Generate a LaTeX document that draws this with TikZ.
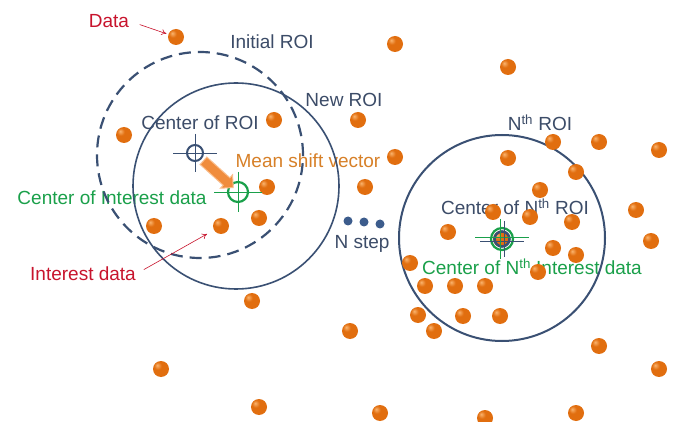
\documentclass[tikz,border=0pt]{standalone}
\usepackage{fontspec}
\setmainfont{Liberation Sans}
\usetikzlibrary{shapes.arrows,arrows.meta,calc}
\definecolor{roiblue}{RGB}{58,80,115}
\definecolor{txtblue}{RGB}{60,76,104}
\definecolor{grn}{RGB}{26,160,74}
\definecolor{redl}{RGB}{200,20,45}
\definecolor{orT}{RGB}{215,128,40}
\definecolor{dotor}{RGB}{225,110,15}
\definecolor{dotlight}{RGB}{250,180,110}
\definecolor{dotdark}{RGB}{165,72,6}
\definecolor{arrfill}{RGB}{240,140,60}
\definecolor{arredge}{RGB}{250,190,140}
\definecolor{stepblue}{RGB}{60,92,140}
\pgfdeclareradialshading{orball}{\pgfpoint{-12bp}{12bp}}{color(0bp)=(dotlight); color(12bp)=(dotor); color(36bp)=(dotor); color(56bp)=(dotdark); color(80bp)=(dotdark)}
\tikzset{
  lbl/.style={inner sep=0pt, font=\fontsize{19}{21}\selectfont},
  ball/.style={circle, shading=orball, minimum size=16pt, inner sep=0pt},
  roi/.style={circle, draw=roiblue, line width=1.6pt, minimum size=206pt, inner sep=0pt},
  thinarrow/.style={draw=redl, line width=0.6pt, -{To[length=5pt,width=6pt]}},
  stepdot/.style={circle, fill=stepblue, minimum size=9pt, inner sep=0pt},
}
\begin{document}
\begin{tikzpicture}[x=1pt,y=-1pt]
\fill[white] (0,0) rectangle (675,422);
\useasboundingbox (0,0) rectangle (675,422);

% labels
\node[lbl, text=redl] (datalbl) at (109,21) {Data};
\node[lbl, text=txtblue] (initlbl) at (272,42) {Initial ROI};
\node[lbl, text=txtblue] (newlbl) at (344,100) {New ROI};
\node[lbl, text=txtblue] (croilbl) at (200,123) {Center of ROI};
\node[lbl, text=orT] (msvlbl) at (308,161) {Mean shift vector};
\node[lbl, text=grn] (cidlbl) at (112,198) {Center of Interest data};
\node[lbl, text=redl] (intlbl) at (83,274) {Interest data};
\node[lbl, text=txtblue] (steplbl) at (362,244) {N step};
\node[lbl, text=txtblue] (nroilbl) at (540,123) {N\textsuperscript{th} ROI};
\node[lbl, text=txtblue] (cnroilbl) at (515,207) {Center of N\textsuperscript{th} ROI};
\node[lbl, text=grn] (cnidlbl) at (532,267) {Center of N\textsuperscript{th} Interest data};

% ROI circles
\node[roi, dashed, dash pattern=on 12pt off 7pt, line width=2.2pt] (initroi) at (200,155) {};
\node[roi] (newroi) at (236,186) {};
\node[roi, line width=2pt] (nroi) at (502,238) {};

% data points
\foreach \p [count=\i] in {(176,37),(395,44),(508,67),(124,135),(274,120),(358,120),(395,157),(267,187),(365,187),(508,158),(553,142),(599,142),(659,150),(576,172),(540,190),(636,210),(154,226),(221,226),(259,218),(493,212),(530,217),(572,222),(448,232),(501,239),(553,248),(576,255),(651,241),(410,263),(538,272),(425,286),(455,286),(485,286),(418,315),(463,316),(500,316),(434,331),(350,331),(252,301),(599,346),(659,369),(161,369),(259,407),(380,413),(485,418),(576,413)}
  \node[ball] (d\i) at \p {};

% center of ROI crosshair
\node[circle, draw=roiblue, line width=2pt, minimum size=16pt, inner sep=0pt] (croi) at (195,153) {};
\draw[roiblue, line width=0.8pt] ($(croi.center)+(-22,0)$) -- ($(croi.center)+(22,0)$);
\draw[roiblue, line width=0.8pt] ($(croi.center)+(0,-19)$) -- ($(croi.center)+(0,19)$);

% center of interest data crosshair
\node[circle, draw=grn, line width=2.2pt, minimum size=20pt, inner sep=0pt] (cid) at (238,192) {};
\draw[grn, line width=0.8pt] ($(cid.center)+(-24,0)$) -- ($(cid.center)+(24,0)$);
\draw[grn, line width=0.8pt] ($(cid.center)+(0,-20)$) -- ($(cid.center)+(0,20)$);

% mean shift vector
\node[single arrow, fill=arrfill, draw=arredge, line width=1pt,
      minimum height=40pt, inner sep=4.5pt, single arrow head extend=4pt,
      rotate=-42] (msv) at ($(croi)!0.5!(cid)$) {};

% Nth crosshair
\node[circle, draw=grn, line width=2.2pt, minimum size=22pt, inner sep=0pt] (ncid) at (502,239) {};
\node[circle, draw=roiblue, line width=2.6pt, minimum size=15pt, inner sep=0pt] (ncroi) at (502,239) {};
\draw[grn, line width=0.8pt] ($(ncid.center)+(-27,-2)$) -- ($(ncid.center)+(27,-2)$);
\draw[roiblue, line width=0.8pt] ($(ncid.center)+(-22,2)$) -- ($(ncid.center)+(22,2)$);
\draw[grn, line width=0.8pt] ($(ncid.center)+(-2,-20)$) -- ($(ncid.center)+(-2,20)$);
\draw[roiblue, line width=0.8pt] ($(ncid.center)+(2,-18)$) -- ($(ncid.center)+(2,18)$);

% N step dots
\node[stepdot] (s1) at (348,221) {};
\node[stepdot] (s2) at (364,222) {};
\node[stepdot] (s3) at (380,224) {};

% pointer arrows
\draw[thinarrow, shorten <=11pt, shorten >=2pt] (datalbl.east) -- (d1);
\coordinate (intend) at (207,234);
\draw[thinarrow, shorten <=9pt] (intlbl.east) -- (intend);
\end{tikzpicture}
\end{document}
